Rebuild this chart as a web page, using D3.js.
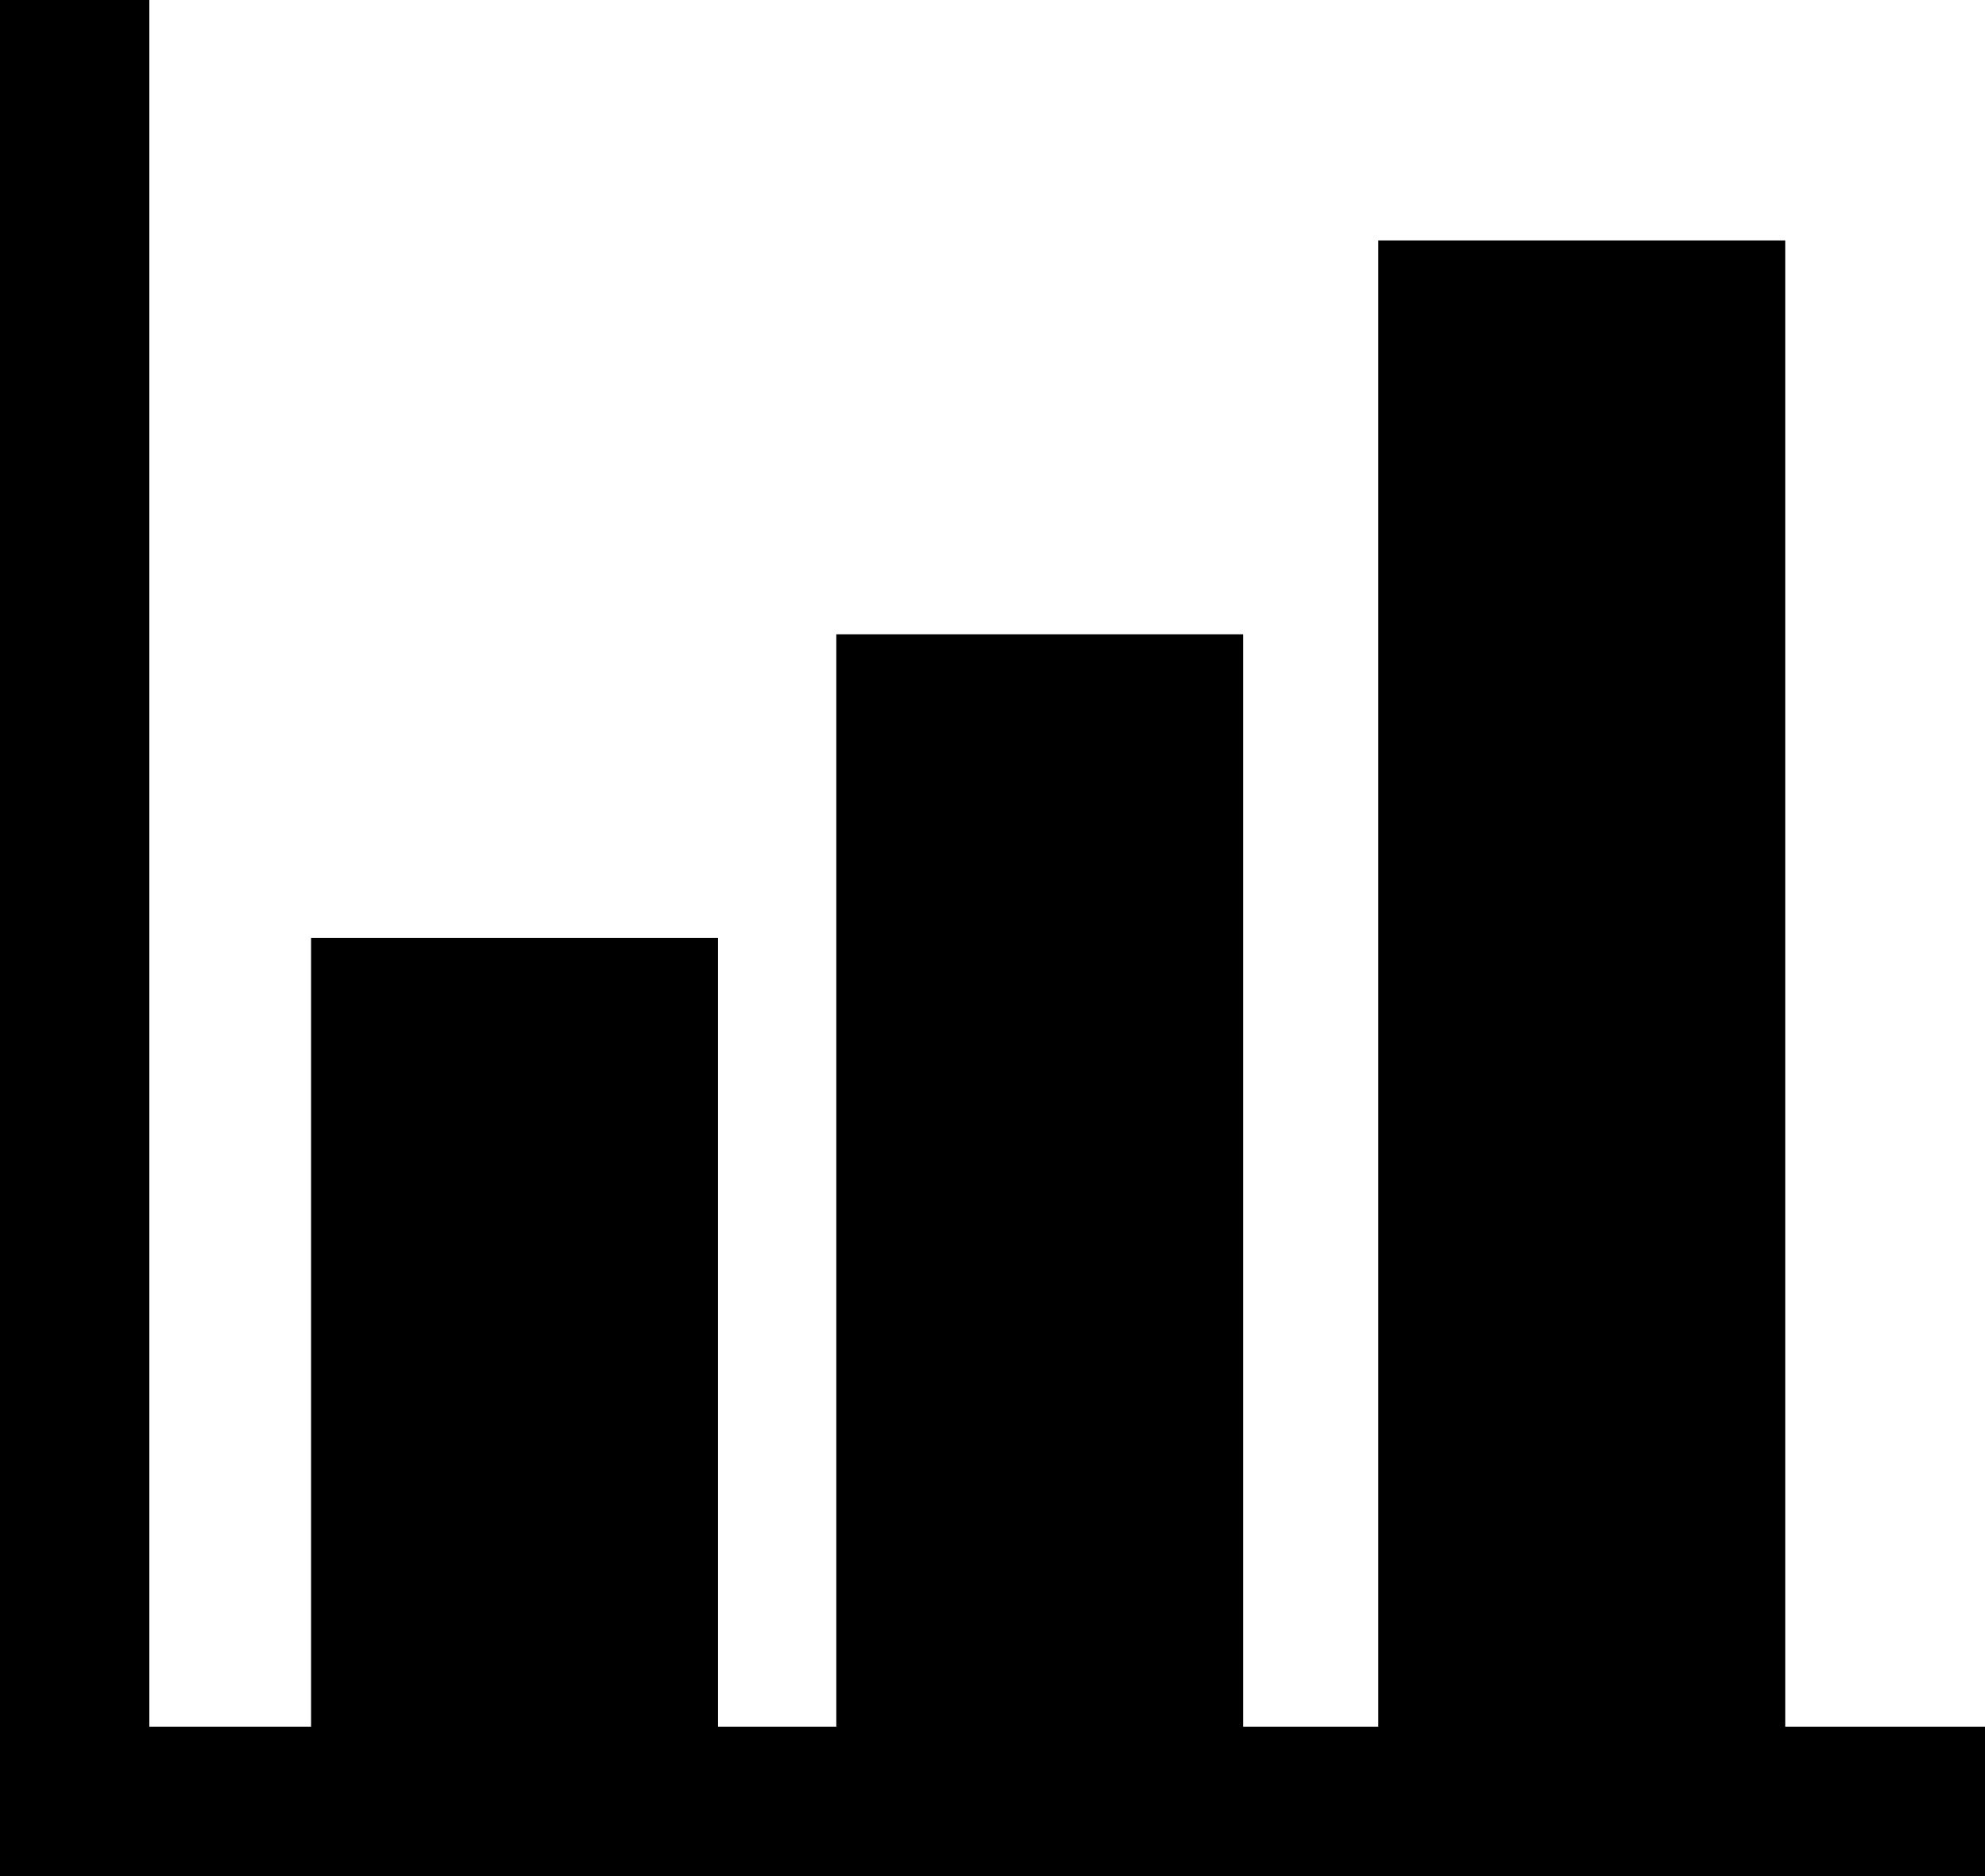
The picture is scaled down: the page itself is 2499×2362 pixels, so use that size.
<!DOCTYPE html>
<html>

<head>
    <meta charset="UTF-8">
    <title>BAR ICON</title>
    <script src="https://d3js.org/d3.v7.min.js"></script>
    <style>
        html, body { margin: 0; padding: 0; background: #fff; }
        svg { display: block; }
    </style>
</head>

<body>
    <div id="chart"></div>
    <script type="text/javascript">
        // bar centres are not evenly spaced in the picture, so x is a number here (1 unit = one bar width)
        const positions = [0.8975, 2.1882, 3.5201];
        const values = [53.07, 73.5, 100];

        const width = 2499;
        const height = 2362;
        const axisWidth = 188;
        const baseline = 2174;
        const barWidth = 1;

        const x = d3.scaleLinear().domain([0, 1]).range([axisWidth, axisWidth + 512.3]);
        const y = d3.scaleLinear().domain([0, 100]).range([baseline, 302.7]);

        const svg = d3.select("#chart")
            .append("svg")
            .attr("width", width)
            .attr("height", height);

        svg.append("rect").attr("width", width).attr("height", height).attr("fill", "#fff");

        // thick axes
        svg.append("rect").attr("x", 0).attr("y", 0).attr("width", axisWidth).attr("height", height).attr("fill", "#000");
        svg.append("rect").attr("x", 0).attr("y", baseline).attr("width", width).attr("height", height - baseline).attr("fill", "#000");

        svg.selectAll("rect.bar")
            .data(values)
            .enter()
            .append("rect")
            .attr("class", "bar")
            .attr("x", function (d, i) { return x(positions[i] - barWidth / 2); })
            .attr("y", function (d) { return y(d); })
            .attr("width", x(barWidth) - x(0))
            .attr("height", function (d) { return baseline - y(d); })
            .attr("fill", "#000");
    </script>
</body>

</html>
